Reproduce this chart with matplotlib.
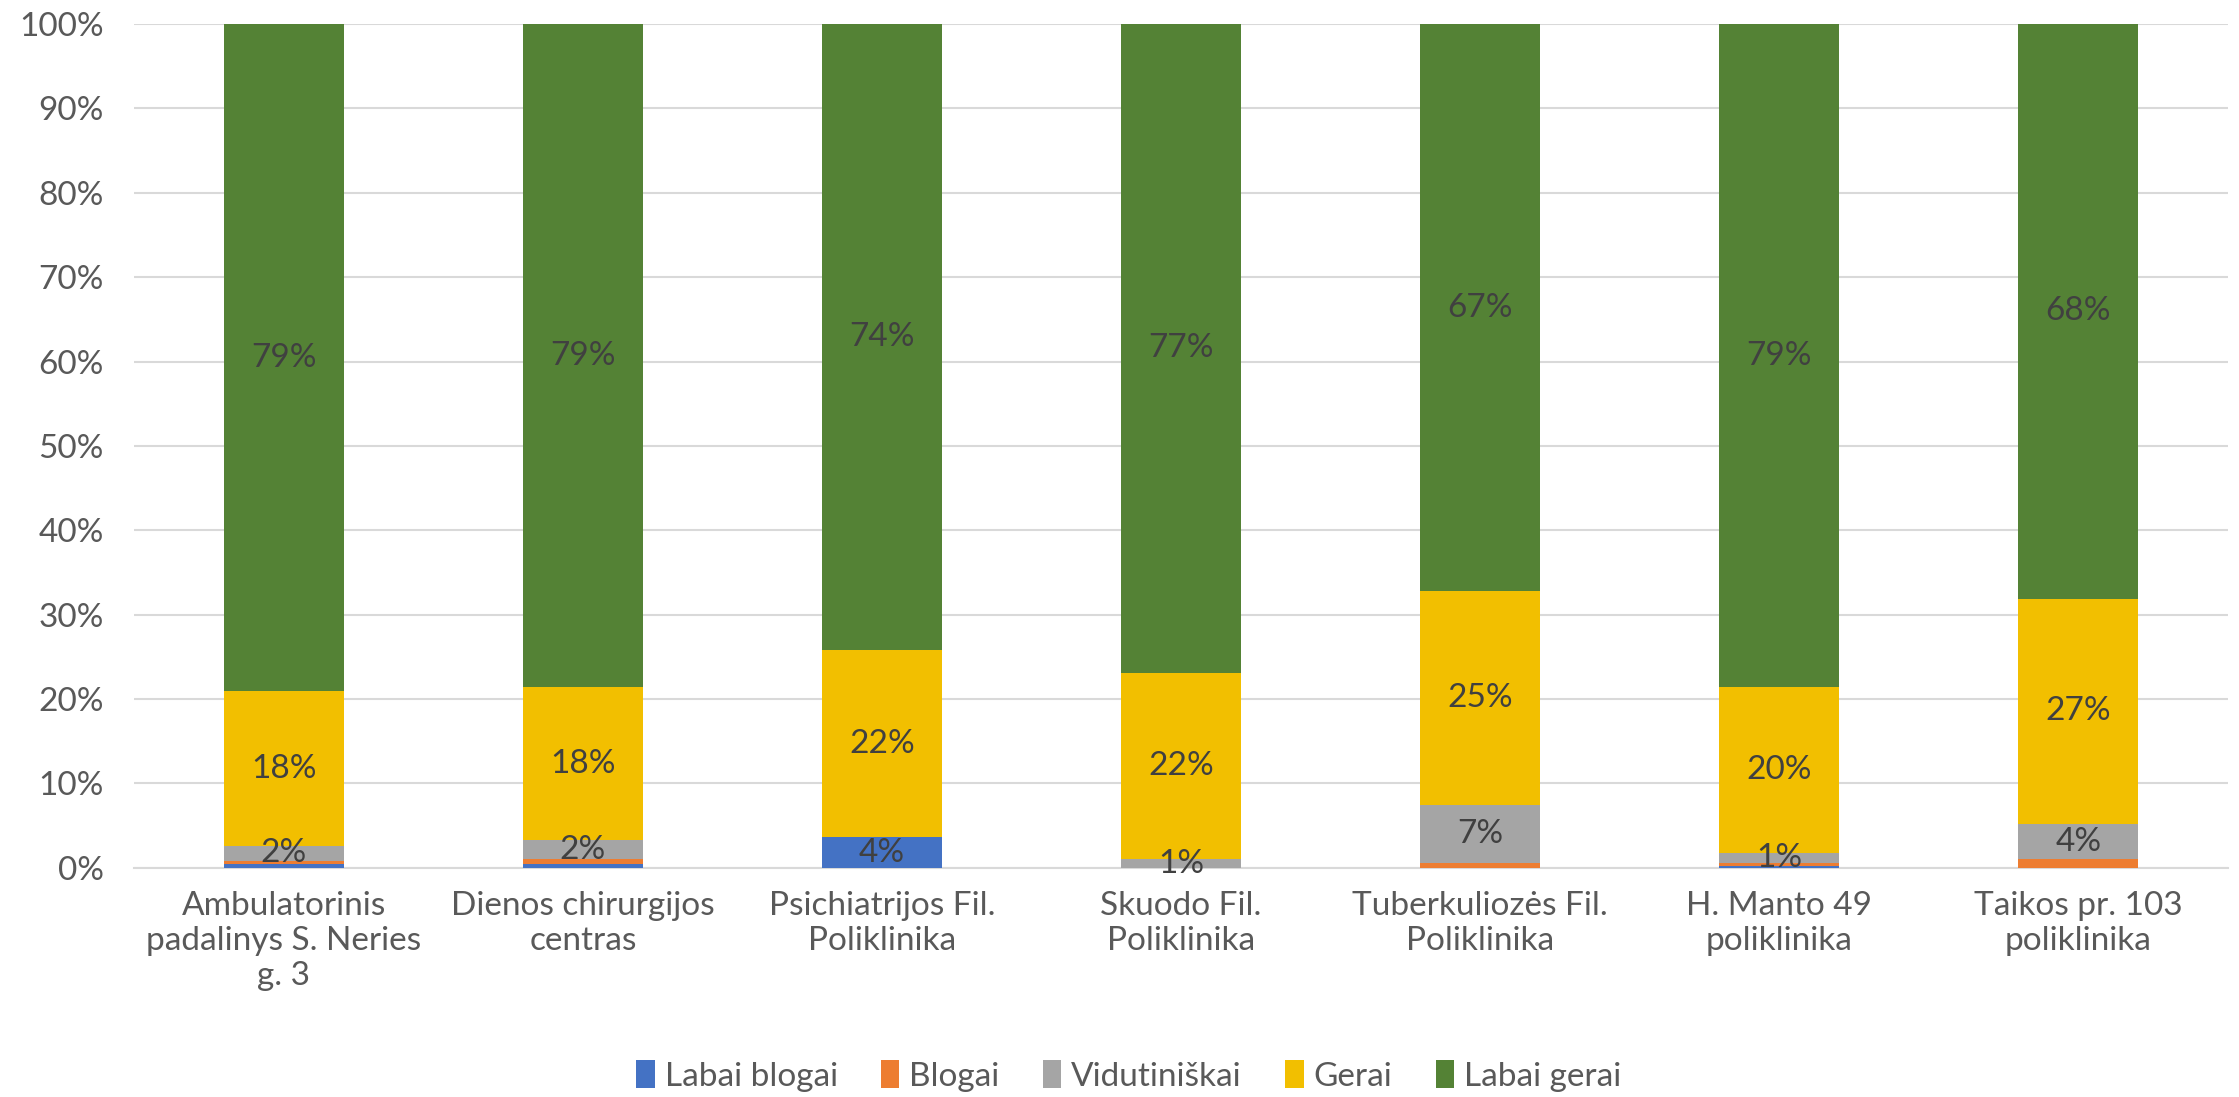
import matplotlib
matplotlib.use("Agg")
import matplotlib.pyplot as plt
import numpy as np

plt.rcParams['font.family'] = ['Lato', 'DejaVu Sans']

categories = ["Ambulatorinis\npadalinys S. Neries\ng. 3", "Dienos chirurgijos\ncentras",
              "Psichiatrijos Fil.\nPoliklinika", "Skuodo Fil.\nPoliklinika",
              "Tuberkuliozės Fil.\nPoliklinika", "H. Manto 49\npoliklinika",
              "Taikos pr. 103\npoliklinika"]
labai_blogai = [0.4, 0.4, 3.6, 0.0, 0.0, 0.2, 0.0]
blogai = [0.4, 0.6, 0.0, 0.0, 0.6, 0.4, 1.0]
vidutiniskai = [1.8, 2.3, 0.0, 1.0, 6.8, 1.2, 4.2]
gerai = [18.3, 18.1, 22.2, 22.1, 25.4, 19.6, 26.7]
labai_gerai = [79.1, 78.6, 74.2, 76.9, 67.2, 78.6, 68.1]

series = [("Labai blogai", labai_blogai, "#4472C4", 1.0),
          ("Blogai", blogai, "#ED7D31", None),
          ("Vidutiniškai", vidutiniskai, "#A5A5A5", 0.0),
          ("Gerai", gerai, "#F2BF00", 0.0),
          ("Labai gerai", labai_gerai, "#548235", 0.0)]

fig = plt.figure(figsize=(22.39, 10.97), dpi=100)
ax = fig.add_axes([0.060, 0.209, 0.935, 0.769])

x = np.arange(len(categories))
bottom = np.zeros(len(categories))
for name, vals, color, min_label in series:
    vals = np.array(vals)
    ax.bar(x, vals, 0.40, bottom=bottom, color=color, label=name, zorder=3)
    if min_label is not None:
        for xi, b, v in zip(x, bottom, vals):
            if v > min_label:
                ax.text(xi, b + v / 2, f"{v:.0f}%", ha="center", va="center",
                        fontsize=24, color="#404040", zorder=4)
    bottom += vals

ax.set_xlim(-0.5, len(categories) - 0.5)
ax.set_ylim(0, 100)
ax.set_yticks(np.arange(0, 101, 10))
ax.set_yticklabels([f"{t}%" for t in range(0, 101, 10)])
ax.set_xticks(x)
ax.set_xticklabels(categories, linespacing=1.2)
ax.tick_params(axis="both", length=0, labelsize=24, labelcolor="#595959")
ax.tick_params(axis="x", pad=17)
ax.tick_params(axis="y", pad=22)
ax.yaxis.grid(True, color="#D9D9D9", linewidth=1.5, zorder=0)
for s in ["top", "right", "left"]:
    ax.spines[s].set_visible(False)
ax.spines["bottom"].set_color("#D9D9D9")
ax.spines["bottom"].set_linewidth(1.5)

ax.legend(loc="center", bbox_to_anchor=(0.475, -0.247), ncol=5, frameon=False,
          fontsize=24, labelcolor="#595959", handlelength=0.55, handleheight=0.9,
          handletextpad=0.3, columnspacing=1.3)

fig.savefig("out.png", dpi=100)
